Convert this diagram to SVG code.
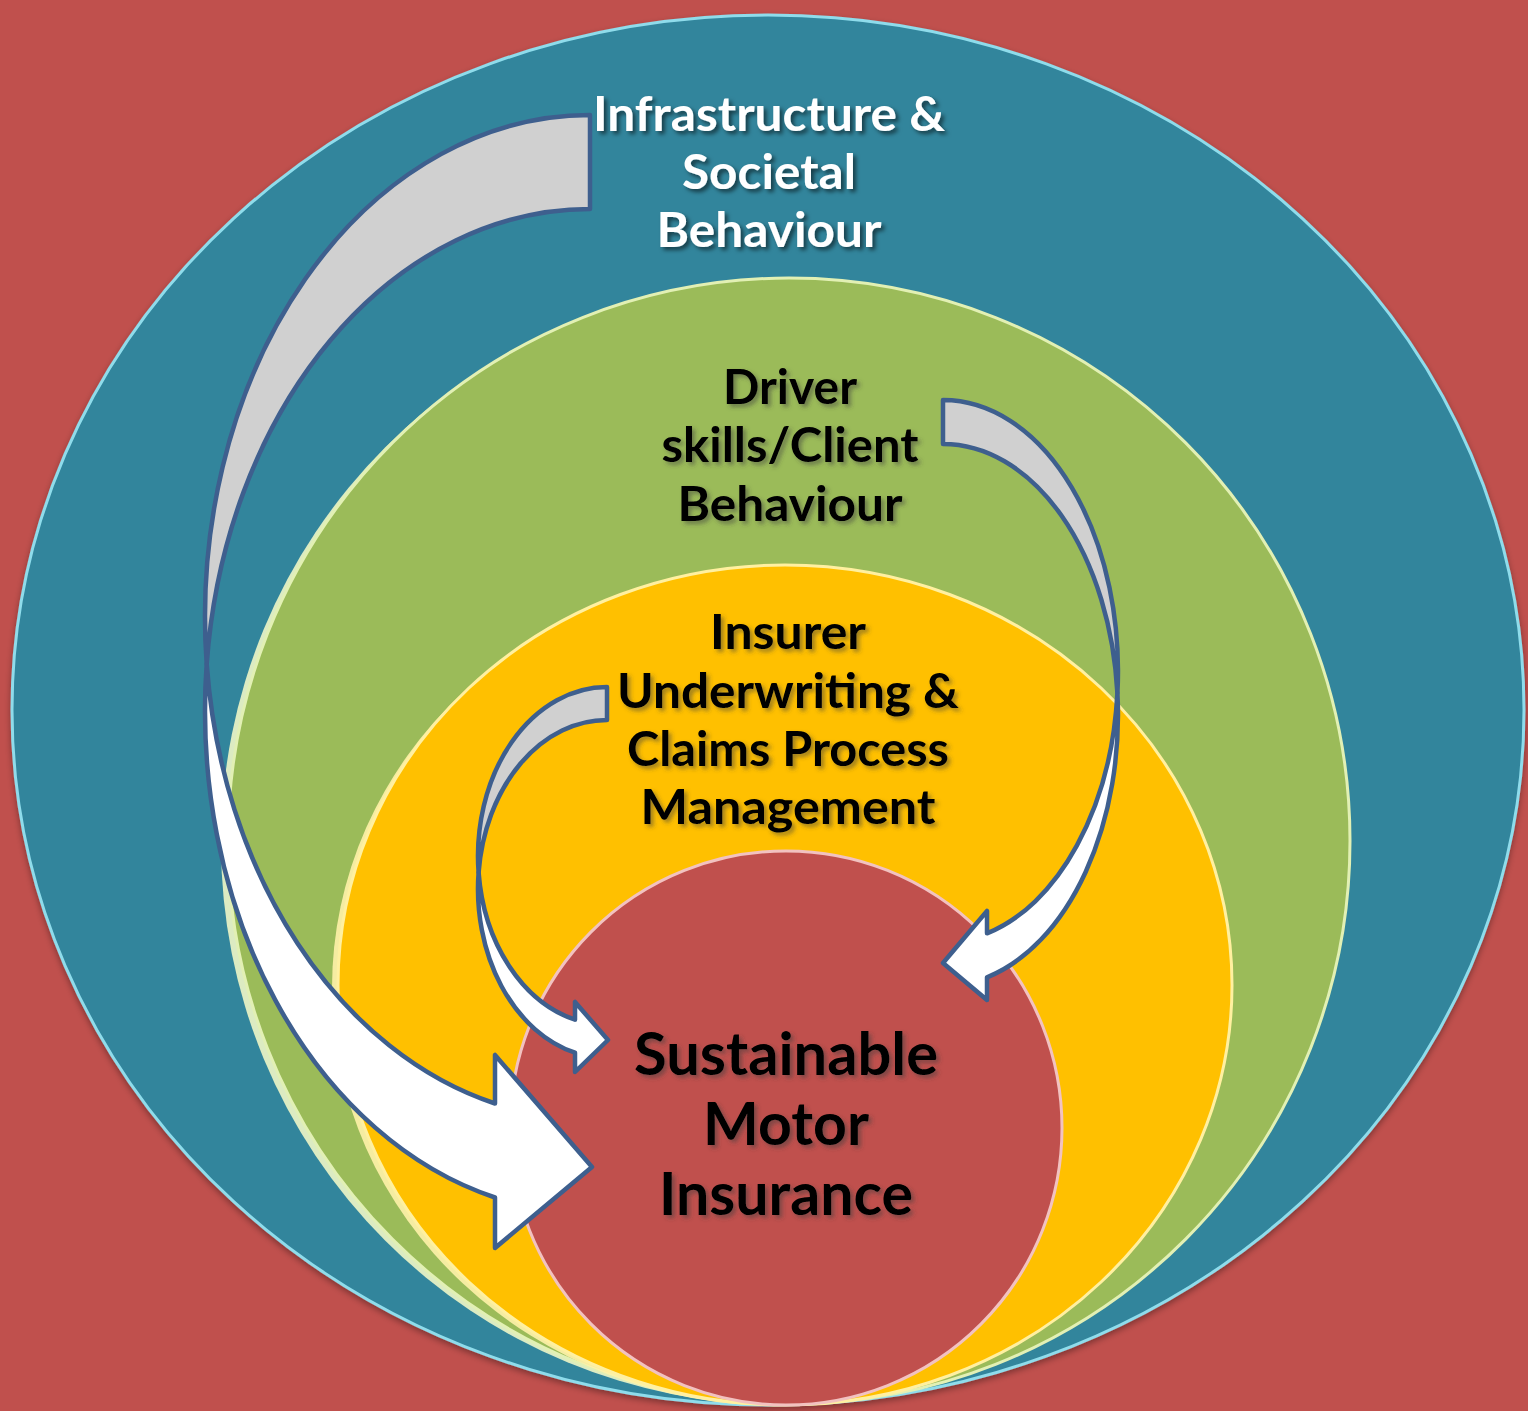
<svg xmlns="http://www.w3.org/2000/svg" width="1528" height="1411" viewBox="0 0 1528 1411">
  <defs>
    <filter id="shadowW" x="-10%" y="-20%" width="120%" height="150%">
      <feDropShadow dx="3" dy="3" stdDeviation="2" flood-color="#000000" flood-opacity="0.55"/>
    </filter>
    <filter id="shadowB" x="-10%" y="-20%" width="120%" height="150%">
      <feDropShadow dx="3" dy="3" stdDeviation="2" flood-color="#3a3a3a" flood-opacity="0.5"/>
    </filter>
    <filter id="discShadow" x="-5%" y="-5%" width="110%" height="110%">
      <feDropShadow dx="0" dy="3" stdDeviation="3" flood-color="#000000" flood-opacity="0.35"/>
    </filter>
    <style>
      .lbl { font-family: "Lato", "Open Sans", "Liberation Sans", sans-serif; font-weight: bold; text-anchor: middle; }
      .white { fill: #FFFFFF; font-size: 48px; filter: url(#shadowW); }
      .black { fill: #000000; font-size: 48px; filter: url(#shadowB); }
      .big { fill: #000000; font-size: 60px; filter: url(#shadowB); }
      .back { fill: #D0D0D0; stroke: #3E5F8E; stroke-width: 4.5; stroke-linejoin: round; }
      .front { fill: #FFFFFF; stroke: #3E5F8E; stroke-width: 4.5; stroke-linejoin: round; }
    </style>
  </defs>

  <rect x="0" y="0" width="1528" height="1411" fill="#C0504D"/>

  <g id="node-infrastructure">
    <ellipse cx="768" cy="710" rx="756" ry="695" fill="#31859C" stroke="#8FDCEB" stroke-width="3" filter="url(#discShadow)"/>
    <text class="lbl white" x="769" y="131" textLength="352" lengthAdjust="spacingAndGlyphs">Infrastructure &amp;</text>
    <text class="lbl white" x="769" y="189" textLength="174" lengthAdjust="spacingAndGlyphs">Societal</text>
    <text class="lbl white" x="769" y="247" textLength="225" lengthAdjust="spacingAndGlyphs">Behaviour</text>
  </g>

  <g id="node-driver">
    <ellipse cx="782" cy="844" rx="561" ry="561" fill="#EEF6C6" opacity="0.9"/>
    <ellipse cx="789" cy="841" rx="561" ry="563" fill="#9BBB59" stroke="#E2F0B4" stroke-width="3"/>
    <text class="lbl black" x="790" y="404" textLength="134" lengthAdjust="spacingAndGlyphs">Driver</text>
    <text class="lbl black" x="790" y="462" textLength="257" lengthAdjust="spacingAndGlyphs">skills/Client</text>
    <text class="lbl black" x="790" y="521" textLength="225" lengthAdjust="spacingAndGlyphs">Behaviour</text>
  </g>

  <g id="node-insurer">
    <ellipse cx="779" cy="988" rx="447" ry="418" fill="#FFF2A8" opacity="0.9"/>
    <ellipse cx="785" cy="985" rx="447" ry="420" fill="#FFC000" stroke="#FFF0A0" stroke-width="3"/>
    <text class="lbl black" x="788" y="649" textLength="156" lengthAdjust="spacingAndGlyphs">Insurer</text>
    <text class="lbl black" x="788" y="708" textLength="342" lengthAdjust="spacingAndGlyphs">Underwriting &amp;</text>
    <text class="lbl black" x="788" y="766" textLength="322" lengthAdjust="spacingAndGlyphs">Claims Process</text>
    <text class="lbl black" x="788" y="824" textLength="295" lengthAdjust="spacingAndGlyphs">Management</text>
  </g>

  <g id="node-sustainable">
    <ellipse cx="786" cy="1128" rx="276" ry="277" fill="#C0504D" stroke="#F2C2C0" stroke-width="3"/>
    <text class="lbl big" x="786" y="1075" textLength="304" lengthAdjust="spacingAndGlyphs">Sustainable</text>
    <text class="lbl big" x="786" y="1145" textLength="166" lengthAdjust="spacingAndGlyphs">Motor</text>
    <text class="lbl big" x="786" y="1215" textLength="254" lengthAdjust="spacingAndGlyphs">Insurance</text>
  </g>

  <g id="connectors">
    <g id="arrow-infrastructure">
      <path class="back" d="M590,115 A385,502 0 0,0 206.7,664 A385,502 0 0,1 590,209 Z"/>
      <path class="front" d="M206.7,664 A385,502 0 0,0 495,1197.5 L495,1248 L592,1167 L495,1055 L495,1103.5 A385,502 0 0,1 206.7,664 Z"/>
    </g>
    <g id="arrow-driver">
      <path class="back" d="M943,400 A175,271 0 0,1 1117.4,693 A175,271 0 0,0 943,444 Z"/>
      <path class="front" d="M1117.4,693 A175,271 0 0,1 987,977.3 L987,1000 L943,963 L987,911 L987,933.3 A175,271 0 0,0 1117.4,693 Z"/>
    </g>
    <g id="arrow-insurer">
      <path class="back" d="M607,687 A129,169 0 0,0 478.6,872.5 A129,169 0 0,1 607,720 Z"/>
      <path class="front" d="M478.6,872.5 A129,169 0 0,0 575,1052.7 L575,1072 L608,1040 L575,1002 L575,1019.7 A129,169 0 0,1 478.6,872.5 Z"/>
    </g>
  </g>
</svg>
